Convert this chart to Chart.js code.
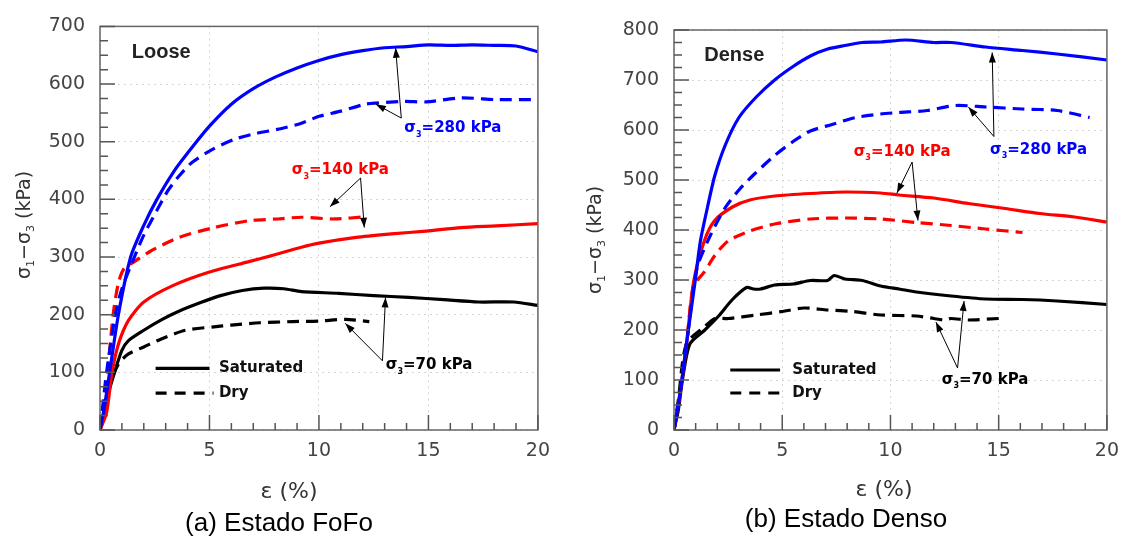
<!DOCTYPE html>
<html>
<head>
<meta charset="utf-8">
<script src="https://cdn.jsdelivr.net/npm/chart.js@4.4.1/dist/chart.umd.min.js"></script>
<style>
  body { margin: 0; background: #fff; }
  #wrap { position: relative; width: 1129px; height: 537px; }
  .box { position: absolute; top: 0; }
</style>
</head>
<body>
<div id="wrap">
  <div class="box" style="left:0"><canvas id="loose" width="560" height="537"></canvas></div>
  <div class="box" style="left:560px"><canvas id="dense" width="569" height="537"></canvas></div>
</div>
<script>
// ---- Loose (a) ----
var loose280SatE = [0, 0.2, 0.44, 0.84, 1.4, 2.0, 2.6, 3.4, 4.2, 5, 6, 7, 8, 9, 10, 11, 12, 13, 14, 15, 16, 17, 18, 19, 20];
var loose280SatS = [0, 40, 100, 200, 300, 355, 400, 450, 490, 527, 565, 592, 612, 628, 641, 651, 658, 663, 665, 668, 667, 668, 667, 666, 656];
var loose280DryE = [0, 0.15, 0.3, 0.7, 1.0, 1.57, 2.0, 2.6, 3.1, 3.6, 4.2, 5.2, 6.2, 7.1, 8.3, 9.2, 10, 11, 12.1, 12.6, 13.9, 14.9, 16.5, 18.1, 19.9];
var loose280DryS = [0, 50, 100, 200, 245, 300, 338, 381, 415, 440, 464, 488, 505, 514, 523, 532, 544, 553, 565, 567, 570, 569, 576, 573, 573];
var loose140SatE = [0, 0.3, 0.55, 0.85, 1.3, 2.0, 3.3, 5, 6.8, 7.8, 9.2, 10, 11.7, 13.3, 14.9, 16.5, 18.1, 20];
var loose140SatS = [0, 30, 100, 150, 190, 222, 250, 274, 292, 302, 317, 324, 334, 340, 345, 351, 354, 358];
var loose140DryE = [0, 0.2, 0.35, 0.6, 0.84, 1.1, 1.57, 2.3, 3.6, 5.2, 6.8, 8.1, 9.2, 10.7, 12.2];
var loose140DryS = [0, 40, 100, 200, 255, 280, 292, 310, 334, 351, 363, 366, 369, 366, 370];
var loose70SatE = [0, 0.2, 0.36, 0.68, 1.0, 1.3, 2.0, 2.8, 3.6, 4.6, 5.5, 6.5, 7.5, 8.4, 9.2, 10.9, 12.5, 14.1, 15.7, 17.3, 18.9, 20];
var loose70SatS = [0, 25, 60, 102, 138, 155, 173, 191, 206, 221, 233, 242, 246, 245, 240, 237, 233, 230, 226, 222, 222, 216];
var loose70DryE = [0, 0.2, 0.36, 0.84, 1.3, 2.0, 2.8, 3.9, 5.2, 6.0, 7.3, 8.8, 10, 11.2, 12.3];
var loose70DryS = [0, 35, 72, 114, 132, 144, 158, 173, 179, 182, 186, 188, 189, 192, 188];

// ---- Dense (b) ----
var dense280SatE = [0, 0.3, 0.6, 0.98, 1.22, 1.55, 1.88, 2.37, 3.0, 3.8, 4.65, 5.5, 6.3, 7.1, 7.9, 8.7, 9.55, 10.7, 12, 12.8, 14.4, 16.1, 17.7, 20];
var dense280SatS = [0, 80, 180, 299, 378, 446, 508, 570, 625, 666, 700, 727, 748, 762, 769, 775, 776, 780, 775, 775, 766, 759, 752, 740];
var dense280DryE = [0, 0.3, 0.6, 1.06, 1.7, 2.37, 3.0, 3.67, 4.65, 5.5, 6.3, 7.3, 8.4, 9.55, 10.4, 11.7, 13, 14.4, 16.1, 17.7, 19.2];
var dense280DryS = [0, 80, 180, 323, 391, 445, 480, 510, 549, 577, 598, 611, 625, 632, 635, 639, 649, 646, 642, 639, 625];
var dense140SatE = [0, 0.3, 0.6, 0.9, 1.4, 1.88, 2.7, 3.5, 4.65, 6.3, 7.9, 9.55, 10.4, 12, 13.6, 15.3, 16.9, 18.5, 20];
var dense140SatS = [0, 80, 180, 295, 378, 419, 446, 460, 468, 473, 476, 474, 470, 464, 453, 443, 433, 426, 416];
var dense140DryE = [0, 0.3, 0.6, 0.9, 1.4, 1.9, 2.5, 3.5, 4.65, 6.3, 7.9, 9.55, 11.2, 12.8, 14.4, 16.1];
var dense140DryS = [0, 80, 180, 288, 316, 350, 378, 398, 412, 422, 424, 422, 415, 409, 402, 395];
var dense70SatE = [0, 0.2, 0.4, 0.73, 1.4, 2.04, 2.7, 3.35, 3.67, 4.0, 4.65, 5.5, 6.3, 7.1, 7.4, 7.9, 8.7, 9.55, 10.4, 11.2, 12.8, 14.4, 16.1, 17.7, 20];
var dense70SatS = [0, 40, 103, 172, 199, 227, 261, 285, 282, 282, 290, 292, 299, 299, 309, 302, 299, 288, 282, 276, 268, 262, 261, 258, 251];
var dense70DryE = [0, 0.2, 0.57, 1.4, 1.9, 2.5, 3.8, 5, 6, 7.1, 8.25, 9.55, 11.2, 12, 12.5, 12.8, 13.6, 15];
var dense70DryS = [0, 60, 172, 206, 223, 223, 230, 237, 244, 240, 237, 230, 228, 223, 220, 223, 220, 223];

var xTicks = [0, 5, 10, 15, 20];
var looseYTicks = [0, 100, 200, 300, 400, 500, 600, 700];
var denseYTicks = [0, 100, 200, 300, 400, 500, 600, 700, 800];

var BLUE = '#0000ff', RED = '#ff0000', BLACK = '#000000';

function pts(xs, ys) {
    return xs.map(function(x, i) { return { x: x, y: ys[i] }; });
}

function line(xs, ys, color, dry) {
    return {
        data: pts(xs, ys),
        borderColor: color,
        borderWidth: 3.2,
        borderDash: dry ? [12, 7] : [],
        pointRadius: 0,
        fill: false,
        tension: 0.25
    };
}

// draws "σ" + subscript + rest, starting at x (left edge), middle at y
function sigmaText(ctx, x, y, sub, rest, color, size) {
    ctx.fillStyle = color;
    ctx.textAlign = 'left';
    ctx.textBaseline = 'middle';
    ctx.font = 'bold ' + size + 'px "DejaVu Sans"';
    ctx.fillText('σ', x, y);
    x += ctx.measureText('σ').width;
    ctx.font = 'bold ' + Math.round(size * 0.55) + 'px "DejaVu Sans"';
    ctx.fillText(sub, x, y + size * 0.4);
    x += ctx.measureText(sub).width;
    ctx.font = 'bold ' + size + 'px "DejaVu Sans"';
    ctx.fillText(rest, x, y);
}

function arrow(ctx, x1, y1, x2, y2) {
    var a = Math.atan2(y2 - y1, x2 - x1);
    ctx.strokeStyle = '#000';
    ctx.fillStyle = '#000';
    ctx.lineWidth = 1;
    ctx.beginPath();
    ctx.moveTo(x1, y1);
    ctx.lineTo(x2, y2);
    ctx.stroke();
    ctx.beginPath();
    ctx.moveTo(x2, y2);
    ctx.lineTo(x2 - 10 * Math.cos(a) + 3.5 * Math.sin(a), y2 - 10 * Math.sin(a) - 3.5 * Math.cos(a));
    ctx.lineTo(x2 - 10 * Math.cos(a) - 3.5 * Math.sin(a), y2 - 10 * Math.sin(a) + 3.5 * Math.cos(a));
    ctx.closePath();
    ctx.fill();
}

var decor = {
    id: 'decor',
    afterDraw: function(chart, args, o) {
        var ctx = chart.ctx, a = chart.chartArea;
        var sx = chart.scales.x, sy = chart.scales.y;
        var px = function(v) { return sx.getPixelForValue(v); };
        var py = function(v) { return sy.getPixelForValue(v); };
        ctx.save();

        // frame
        ctx.strokeStyle = '#666';
        ctx.lineWidth = 1.5;
        ctx.strokeRect(a.left, a.top, a.right - a.left, a.bottom - a.top);

        // inward ticks, major and minor
        ctx.strokeStyle = '#555';
        ctx.lineWidth = 1.5;
        ctx.beginPath();
        for (var v = 0; v <= sy.max; v += 25) {
            var len = v % 100 === 0 ? 15 : 8;
            ctx.moveTo(a.left, py(v));
            ctx.lineTo(a.left + len, py(v));
        }
        for (var e = 0; e <= 20; e += 1) {
            var l2 = e % 5 === 0 ? 15 : 7;
            ctx.moveTo(px(e), a.bottom);
            ctx.lineTo(px(e), a.bottom - l2);
        }
        ctx.stroke();

        // y title with subscripts
        ctx.save();
        ctx.translate(o.yTitle[0], o.yTitle[1]);
        ctx.rotate(-Math.PI / 2);
        ctx.fillStyle = '#333';
        ctx.textBaseline = 'middle';
        ctx.textAlign = 'left';
        var parts = [['σ', 19, 0], ['1', 11, 6], ['−σ', 19, 0], ['3', 11, 6], [' (kPa)', 19, 0]];
        var total = 0;
        parts.forEach(function(p) { ctx.font = p[1] + 'px "DejaVu Sans"'; total += ctx.measureText(p[0]).width; });
        var cx = -total / 2;
        parts.forEach(function(p) {
            ctx.font = p[1] + 'px "DejaVu Sans"';
            ctx.fillText(p[0], cx, p[2]);
            cx += ctx.measureText(p[0]).width;
        });
        ctx.restore();

        // x title and caption
        ctx.textAlign = 'center';
        ctx.textBaseline = 'middle';
        ctx.fillStyle = '#333';
        ctx.font = '22px "DejaVu Sans"';
        ctx.fillText('ε (%)', o.xTitle[0], o.xTitle[1]);
        ctx.fillStyle = '#000';
        ctx.font = '26px "Liberation Sans", Arial';
        ctx.fillText(o.caption, o.capPos[0], o.capPos[1]);

        // state label
        ctx.textAlign = 'left';
        ctx.fillStyle = '#222';
        ctx.font = 'bold 20px "Liberation Sans", Arial';
        ctx.fillText(o.state[0], px(o.state[1]), py(o.state[2]));

        // legend
        ctx.strokeStyle = '#000';
        ctx.lineWidth = 3.2;
        ctx.beginPath();
        ctx.moveTo(px(o.legend[0]), py(o.legend[2]));
        ctx.lineTo(px(o.legend[1]), py(o.legend[2]));
        ctx.stroke();
        ctx.setLineDash([11, 8]);
        ctx.beginPath();
        ctx.moveTo(px(o.legend[0]), py(o.legend[3]));
        ctx.lineTo(px(o.legend[1]) + 4, py(o.legend[3]));
        ctx.stroke();
        ctx.setLineDash([]);
        ctx.fillStyle = '#111';
        ctx.font = 'bold 15px "DejaVu Sans"';
        ctx.fillText('Saturated', px(o.legend[4]), py(o.legend[2]));
        ctx.fillText('Dry', px(o.legend[4]), py(o.legend[3]));

        // pressure labels and arrows
        o.labels.forEach(function(L) {
            sigmaText(ctx, px(L.e), py(L.s), '3', L.text, L.color, 15);
            L.heads.forEach(function(h) {
                arrow(ctx, px(L.tail[0]), py(L.tail[1]), px(h[0]), py(h[1]));
            });
        });
        ctx.restore();
    }
};

function axes(yMax, yWidth) {
    var tickFont = { family: '"DejaVu Sans"', size: 19 };
    return {
        x: {
            type: 'linear', min: 0, max: 20,
            afterBuildTicks: function(s) { s.ticks = xTicks.map(function(v) { return { value: v }; }); },
            afterFit: function(s) { s.height = 107; },
            ticks: { font: tickFont, color: '#444', padding: 10, maxRotation: 0 },
            grid: { color: '#d4d4d4', lineWidth: 1, drawTicks: false },
            border: { display: false, dash: [2, 4] }
        },
        y: {
            type: 'linear', min: 0, max: yMax,
            afterBuildTicks: function(s) {
                var t = yMax === 700 ? looseYTicks : denseYTicks;
                s.ticks = t.map(function(v) { return { value: v }; });
            },
            afterFit: function(s) { s.width = yWidth; },
            ticks: { font: tickFont, color: '#444', padding: 15 },
            grid: { color: '#d4d4d4', lineWidth: 1, drawTicks: false },
            border: { display: false, dash: [2, 4] }
        }
    };
}

new Chart(document.getElementById('loose'), {
    type: 'line',
    data: {
        datasets: [
            line(loose280SatE, loose280SatS, BLUE, false),
            line(loose280DryE, loose280DryS, BLUE, true),
            line(loose140SatE, loose140SatS, RED, false),
            line(loose140DryE, loose140DryS, RED, true),
            line(loose70SatE, loose70SatS, BLACK, false),
            line(loose70DryE, loose70DryS, BLACK, true)
        ]
    },
    options: {
        responsive: false,
        animation: false,
        layout: { padding: { top: 25, right: 18, bottom: 0, left: 0 } },
        scales: axes(700, 100),
        plugins: {
            legend: { display: false },
            tooltip: { enabled: false },
            decor: {
                yTitle: [25, 225],
                xTitle: [289, 492],
                caption: '(a) Estado FoFo',
                capPos: [279, 524],
                state: ['Loose', 1.45, 655],
                legend: [2.54, 5.0, 107, 64, 5.43],
                labels: [
                    { text: '=280 kPa', color: BLUE, e: 13.9, s: 523, tail: [13.76, 541], heads: [[13.5, 663], [12.6, 565]] },
                    { text: '=140 kPa', color: RED, e: 8.76, s: 450, tail: [11.9, 437], heads: [[10.5, 387], [12.07, 351]] },
                    { text: '=70 kPa', color: BLACK, e: 13.05, s: 112, tail: [12.9, 120], heads: [[13.04, 230], [11.2, 185]] }
                ]
            }
        }
    },
    plugins: [decor]
});

new Chart(document.getElementById('dense'), {
    type: 'line',
    data: {
        datasets: [
            line(dense280SatE, dense280SatS, BLUE, false),
            line(dense280DryE, dense280DryS, BLUE, true),
            line(dense140SatE, dense140SatS, RED, false),
            line(dense140DryE, dense140DryS, RED, true),
            line(dense70SatE, dense70SatS, BLACK, false),
            line(dense70DryE, dense70DryS, BLACK, true)
        ]
    },
    options: {
        responsive: false,
        animation: false,
        layout: { padding: { top: 30, right: 12, bottom: 0, left: 0 } },
        scales: axes(800, 114),
        plugins: {
            legend: { display: false },
            tooltip: { enabled: false },
            decor: {
                yTitle: [36, 240],
                xTitle: [324, 490],
                caption: '(b) Estado Denso',
                capPos: [286, 520],
                state: ['Dense', 1.4, 750],
                legend: [2.6, 4.9, 120, 74, 5.46],
                labels: [
                    { text: '=280 kPa', color: BLUE, e: 14.6, s: 560, tail: [14.78, 587], heads: [[14.7, 755], [13.6, 646]] },
                    { text: '=140 kPa', color: RED, e: 8.3, s: 556, tail: [11.0, 536], heads: [[10.3, 474], [11.27, 419]] },
                    { text: '=70 kPa', color: BLACK, e: 12.37, s: 100, tail: [13.1, 124], heads: [[13.4, 258], [12.1, 216]] }
                ]
            }
        }
    },
    plugins: [decor]
});
</script>
</body>
</html>
